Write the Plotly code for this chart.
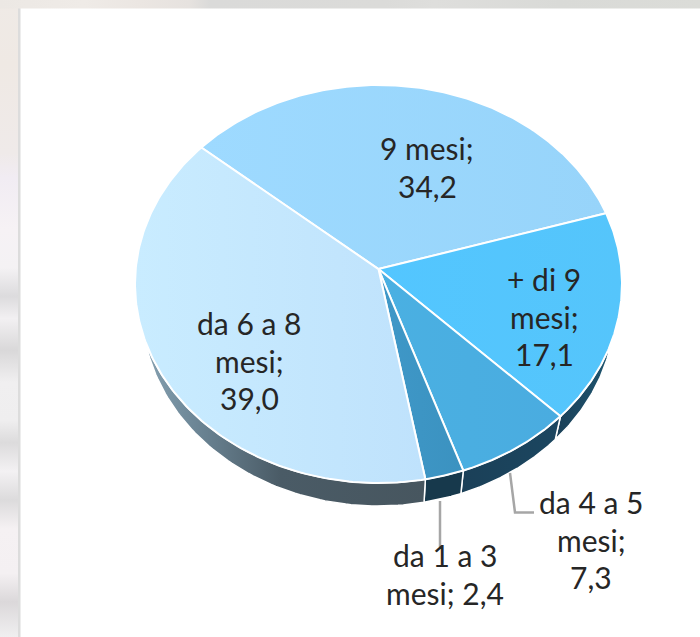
import numpy as np
import plotly.graph_objects as go

# ---- data ----
categories = ["9 mesi", "+ di 9 mesi", "da 4 a 5 mesi", "da 1 a 3 mesi", "da 6 a 8 mesi"]
values = [34.2, 17.1, 7.3, 2.4, 39.0]
label_lines = [["9 mesi;", "34,2"], ["+ di 9", "mesi;", "17,1"], ["da 4 a 5", "mesi;", "7,3"],
               ["da 1 a 3", "mesi; 2,4"], ["da 6 a 8", "mesi;", "39,0"]]

# ---- styles ----
top_colors = [["#9edaff", "#97d4fa"], ["#53c6ff", "#55c5fb"], ["#4ab0e2", "#4aace0"],
              ["#3f98c8", "#3b92c0"], ["#c9ecff", "#bfe2fc"]]
side_scales = [[[0, "#1f5a75"], [1, "#1f5a75"]],
               [[0, "#1a3f57"], [1, "#1f5a75"]],
               [[0, "#1b4058"], [1, "#1b4660"]],
               [[0, "#17394c"], [1, "#17394c"]],
               [[0, "#8ba6b6"], [0.2, "#6d8797"], [0.5, "#4a5b66"], [1, "#47565f"]]]
label_pos = [(427, 148), (544, 279), (591, 502), (445, 555), (249, 323)]
LINE_PITCH = 37.5
FONT = dict(family="Lato", size=30, color="#262626")

START = -49.9   # clockwise from the top, degrees
CX, CY, RX, RY = 378.5, 284.0, 243.5, 199.0
D = 0.075       # perspective shift of the apex
DEPTH_DY, RX2, RY2 = 24.0, 236.5, 198.0

strip_left = [[0, "#efeae6"], [0.10, "#efe9e4"], [0.24, "#efeae9"], [0.28, "#f1ecf3"], [0.36, "#f6f2f5"],
              [0.42, "#f4f2f4"], [0.465, "#dcdbdd"], [0.50, "#f2f0f2"], [0.55, "#d9d8d9"], [0.60, "#f0eff0"],
              [0.66, "#efeeef"], [0.695, "#dcdbdc"], [0.74, "#f3f1f3"], [0.785, "#dcdbdc"], [0.83, "#f5f1f3"],
              [0.90, "#f4f0f2"], [0.945, "#dbd8da"], [1, "#f0eff0"]]
strip_top = [[0, "#ece8e4"], [0.12, "#efebe7"], [0.2, "#ebe6e2"], [0.27, "#e6e2df"], [0.30, "#dadad9"],
             [0.55, "#dbdbd9"], [0.62, "#dededc"], [0.8, "#d9dad7"], [1, "#dbdcd8"]]


def project(theta_deg, cx=CX, cy=CY, rx=RX, ry=RY):
    t = np.radians(theta_deg)
    u, v = np.sin(t), np.cos(t)
    den = 1 + D * v
    un = u * np.sqrt(1 - D * D) / den
    vn = (v + D) / den
    return cx + rx * un, cy - ry * vn


fractions = np.array(values) / sum(values) * 360
edges = START + np.concatenate([[0], np.cumsum(fractions)])

fig = go.Figure()

# page frame behind the white panel
fig.add_trace(go.Scatter(x=[0, 18, 18, 0, 0], y=[0, 0, 637, 637, 0], mode="none", fill="toself",
                         fillgradient=dict(type="vertical", colorscale=strip_left, start=0, stop=637),
                         hoverinfo="skip", showlegend=False))
fig.add_trace(go.Scatter(x=[0, 700, 700, 0, 0], y=[0, 0, 8.5, 8.5, 0], mode="none", fill="toself",
                         fillgradient=dict(type="horizontal", colorscale=strip_top),
                         hoverinfo="skip", showlegend=False))

# extruded rim first, so the top surface covers it
for i in range(len(values)):
    th = np.linspace(edges[i], edges[i + 1], 120)
    x1, y1 = project(th)
    x2, y2 = project(th, CX, CY + DEPTH_DY, RX2, RY2)
    fig.add_trace(go.Scatter(
        x=np.concatenate([x1, x2[::-1], x1[:1]]), y=np.concatenate([y1, y2[::-1], y1[:1]]),
        mode="lines", fill="toself", line=dict(color="#ffffff", width=1.5),
        fillgradient=dict(type="horizontal", colorscale=side_scales[i]),
        hoverinfo="skip", showlegend=False))

# top surface
apex_x, apex_y = CX, CY - RY * D
for i in range(len(values)):
    th = np.linspace(edges[i], edges[i + 1], 160)
    x1, y1 = project(th)
    fig.add_trace(go.Scatter(
        x=np.concatenate([[apex_x], x1, [apex_x]]), y=np.concatenate([[apex_y], y1, [apex_y]]),
        mode="lines", fill="toself", line=dict(color="#ffffff", width=2),
        fillgradient=dict(type="horizontal", colorscale=[[0, top_colors[i][0]], [1, top_colors[i][1]]]),
        name=categories[i], hoverinfo="name", showlegend=False))

# leader lines
fig.add_trace(go.Scatter(x=[440, 440], y=[501, 547], mode="lines",
                         line=dict(color="#a6a6a6", width=2.5), hoverinfo="skip", showlegend=False))
fig.add_trace(go.Scatter(x=[510, 515, 534], y=[473, 512.5, 512.5], mode="lines",
                         line=dict(color="#a6a6a6", width=2.5), hoverinfo="skip", showlegend=False))

for lines, (lx, ly) in zip(label_lines, label_pos):
    for k, txt in enumerate(lines):
        fig.add_annotation(x=lx, y=ly + k * LINE_PITCH, text=txt, showarrow=False,
                           xanchor="center", yanchor="middle", font=FONT)

shapes = [
    dict(type="rect", xref="x", yref="y", x0=18, x1=20.5, y0=8, y1=637, fillcolor="#dcdcdc", line_width=0, layer="below"),
]
fig.update_layout(
    width=700, height=637, autosize=False, margin=dict(l=0, r=0, t=0, b=0),
    paper_bgcolor="#ffffff", plot_bgcolor="#ffffff", shapes=shapes,
    xaxis=dict(range=[0, 700], visible=False, fixedrange=True),
    yaxis=dict(range=[637, 0], visible=False, fixedrange=True),
)
fig.write_html("out.html", config=dict(displayModeBar=False),
               post_script="document.body.style.margin='0';document.body.style.overflow='hidden';")
